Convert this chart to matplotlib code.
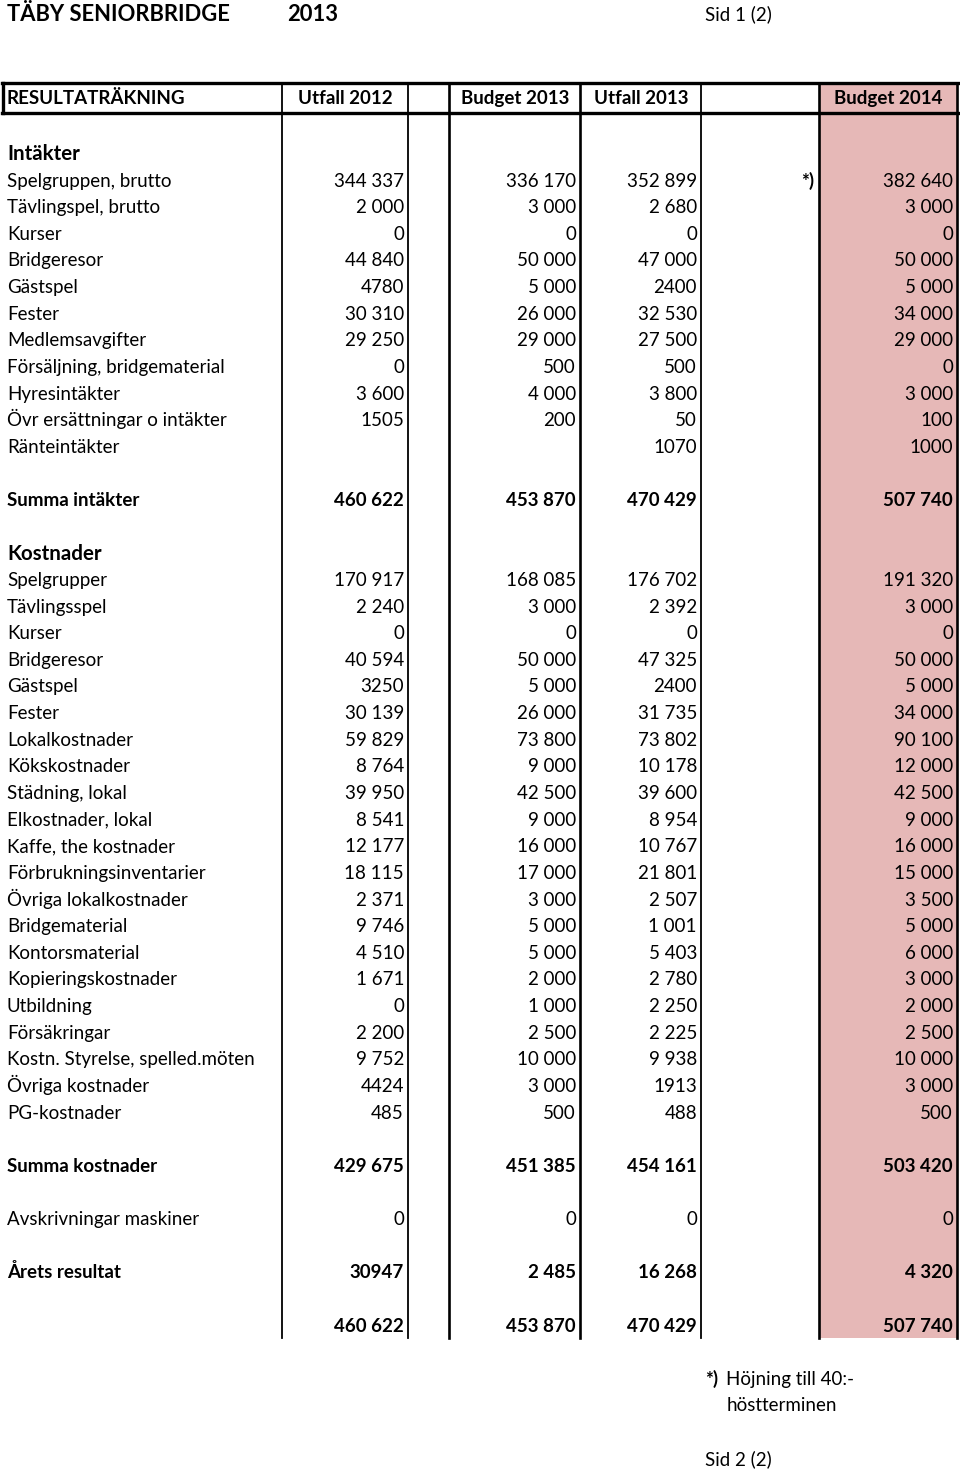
import matplotlib
matplotlib.use("Agg")
import matplotlib.pyplot as plt
from matplotlib.patches import Rectangle

plt.rcParams['font.family'] = ['Lato', 'DejaVu Sans']

title = "TÄBY SENIORBRIDGE"
title_year = "2013"
page_top = "Sid 1 (2)"
page_bottom = "Sid 2 (2)"
table_title = "RESULTATRÄKNING"
col_headers = ["Utfall 2012", "Budget 2013", "Utfall 2013", "Budget 2014"]

income_title = "Intäkter"
income_labels = ["Spelgruppen, brutto", "Tävlingspel, brutto", "Kurser", "Bridgeresor",
                 "Gästspel", "Fester", "Medlemsavgifter", "Försäljning, bridgematerial",
                 "Hyresintäkter", "Övr ersättningar o intäkter", "Ränteintäkter"]
income_utfall_2012 = ["344 337", "2 000", "0", "44 840", "4780", "30 310", "29 250", "0", "3 600", "1505", ""]
income_budget_2013 = ["336 170", "3 000", "0", "50 000", "5 000", "26 000", "29 000", "500", "4 000", "200", ""]
income_utfall_2013 = ["352 899", "2 680", "0", "47 000", "2400", "32 530", "27 500", "500", "3 800", "50", "1070"]
income_budget_2014 = ["382 640", "3 000", "0", "50 000", "5 000", "34 000", "29 000", "0", "3 000", "100", "1000"]
income_notes = ["*)", "", "", "", "", "", "", "", "", "", ""]

sum_income_label = "Summa intäkter"
sum_income = ["460 622", "453 870", "470 429", "507 740"]

cost_title = "Kostnader"
cost_labels = ["Spelgrupper", "Tävlingsspel", "Kurser", "Bridgeresor", "Gästspel", "Fester",
               "Lokalkostnader", "Kökskostnader", "Städning, lokal", "Elkostnader, lokal",
               "Kaffe, the kostnader", "Förbrukningsinventarier", "Övriga lokalkostnader",
               "Bridgematerial", "Kontorsmaterial", "Kopieringskostnader", "Utbildning",
               "Försäkringar", "Kostn. Styrelse, spelled.möten", "Övriga kostnader", "PG-kostnader"]
cost_utfall_2012 = ["170 917", "2 240", "0", "40 594", "3250", "30 139", "59 829", "8 764", "39 950",
                    "8 541", "12 177", "18 115", "2 371", "9 746", "4 510", "1 671", "0", "2 200",
                    "9 752", "4424", "485"]
cost_budget_2013 = ["168 085", "3 000", "0", "50 000", "5 000", "26 000", "73 800", "9 000", "42 500",
                    "9 000", "16 000", "17 000", "3 000", "5 000", "5 000", "2 000", "1 000", "2 500",
                    "10 000", "3 000", "500"]
cost_utfall_2013 = ["176 702", "2 392", "0", "47 325", "2400", "31 735", "73 802", "10 178", "39 600",
                    "8 954", "10 767", "21 801", "2 507", "1 001", "5 403", "2 780", "2 250", "2 225",
                    "9 938", "1913", "488"]
cost_budget_2014 = ["191 320", "3 000", "0", "50 000", "5 000", "34 000", "90 100", "12 000", "42 500",
                    "9 000", "16 000", "15 000", "3 500", "5 000", "6 000", "3 000", "2 000", "2 500",
                    "10 000", "3 000", "500"]

sum_cost_label = "Summa kostnader"
sum_cost = ["429 675", "451 385", "454 161", "503 420"]
depr_label = "Avskrivningar maskiner"
depr = ["0", "0", "0", "0"]
result_label = "Årets resultat"
result = ["30947", "2 485", "16 268", "4 320"]
final_totals = ["460 622", "453 870", "470 429", "507 740"]
footnote_mark = "*)"
footnote_1 = "Höjning till 40:-"
footnote_2 = "höstterminen"

W, H = 960, 1470
fig = plt.figure(figsize=(W / 100, H / 100), dpi=100)
ax = fig.add_axes([0, 0, 1, 1])
ax.set_xlim(0, W)
ax.set_ylim(H, 0)
ax.axis('off')

FS = 13.5
VA = 'baseline'
BO = 6.5  # baseline offset below row centre (px)
pink = "#E6B8B7"
x_lines = [282, 408, 449, 580, 701, 819, 957]
lws = [1.3, 1.3, 1.9, 1.9, 1.3, 1.9, 1.9]
val_right = [404, 576, 697, 953]
note_right = 814
hdr_top, hdr_bot = 83, 113
body_bot = 1338
y0 = 180.0
pitch = 26.63

def ry(i):
    return y0 + i * pitch + BO

# pink column
ax.add_patch(Rectangle((819, hdr_top), 957 - 819, body_bot - hdr_top, facecolor=pink, edgecolor='none', zorder=0))

# header box
ax.plot([2, 958], [hdr_top, hdr_top], color='black', lw=2.4, solid_capstyle='projecting')
ax.plot([2, 958], [hdr_bot, hdr_bot], color='black', lw=2.4, solid_capstyle='projecting')
ax.plot([3, 3], [hdr_top, hdr_bot], color='black', lw=2.4)
for x, lw in zip(x_lines, lws):
    ax.plot([x, x], [hdr_top, body_bot], color='black', lw=lw, zorder=3)

# titles
ax.text(7, 13 + 7.5, title, fontsize=15.8, fontweight='bold', va=VA, ha='left')
ax.text(287, 13 + 7.5, title_year, fontsize=15.8, fontweight='bold', va=VA, ha='left')
ax.text(738, 14 + BO, page_top, fontsize=FS, va=VA, ha='center')

hy = 97 + BO
ax.text(7, hy, table_title, fontsize=FS, fontweight='bold', va=VA, ha='left')
col_centers = [345, 515, 641, 888]
for c, h in zip(col_centers, col_headers):
    ax.text(c, hy, h, fontsize=FS, fontweight='bold', va=VA, ha='center')

def row(i, label, vals, bold=False, note="", big=False):
    y = ry(i)
    if label:
        ax.text(7, y + (0.5 if big else 0), label, fontsize=(14.8 if big else FS),
                fontweight=('bold' if (bold or big) else 'normal'), va=VA, ha='left')
    for xr, v in zip(val_right, vals):
        if v:
            ax.text(xr, y, v, fontsize=FS, fontweight=('bold' if bold else 'normal'), va=VA, ha='right')
    if note:
        ax.text(note_right, y, note, fontsize=FS, fontweight='bold', va=VA, ha='right')

row(-1, income_title, [], big=True)
for k, lab in enumerate(income_labels):
    row(k, lab, [income_utfall_2012[k], income_budget_2013[k], income_utfall_2013[k], income_budget_2014[k]],
        note=income_notes[k])
i = len(income_labels) + 1
row(i, sum_income_label, sum_income, bold=True)
i += 2
row(i, cost_title, [], big=True)
i += 1
for k, lab in enumerate(cost_labels):
    row(i + k, lab, [cost_utfall_2012[k], cost_budget_2013[k], cost_utfall_2013[k], cost_budget_2014[k]])
i += len(cost_labels) + 1
row(i, sum_cost_label, sum_cost, bold=True)
i += 2
row(i, depr_label, depr)
i += 2
row(i, result_label, result, bold=True)
i += 2
row(i, "", final_totals, bold=True)
i += 2
ax.text(705, ry(i), footnote_mark, fontsize=FS, fontweight='bold', va=VA, ha='left')
ax.text(726, ry(i), footnote_1, fontsize=FS, va=VA, ha='left')
ax.text(727, ry(i + 1), footnote_2, fontsize=FS, va=VA, ha='left')
ax.text(738, ry(i + 3), page_bottom, fontsize=FS, va=VA, ha='center')

fig.savefig("out.png", dpi=100, facecolor='white')
